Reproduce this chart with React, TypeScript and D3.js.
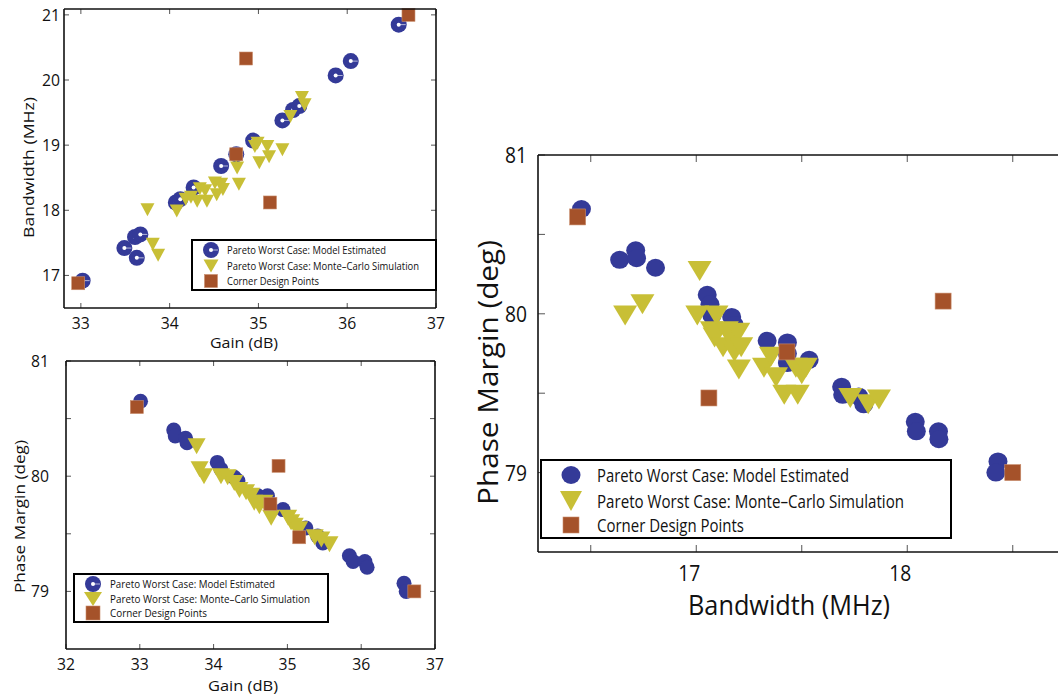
import React from 'react';
import * as d3 from 'd3';

type P = [number, number];

// ---------- Panel A: Gain (dB) vs Bandwidth (MHz) ----------
const gainBwModel: P[] = [
  [33.02, 16.92], [33.49, 17.42], [33.63, 17.27], [33.61, 17.59], [33.67, 17.63],
  [34.07, 18.12], [34.12, 18.17], [34.27, 18.35], [34.58, 18.68], [34.75, 18.86],
  [34.94, 19.07], [35.27, 19.38], [35.39, 19.54], [35.46, 19.6], [35.87, 20.07],
  [36.04, 20.29], [36.58, 20.85],
];
const gainBwMC: P[] = [
  [33.75, 18.01], [33.81, 17.48], [33.87, 17.31], [34.08, 17.99], [34.18, 18.17],
  [34.24, 18.2], [34.31, 18.14], [34.34, 18.33], [34.42, 18.14], [34.4, 18.3],
  [34.51, 18.42], [34.53, 18.24], [34.58, 18.4], [34.6, 18.32], [34.76, 18.65],
  [34.78, 18.4], [34.75, 18.83], [34.96, 18.98], [34.99, 19.03], [35.01, 18.73],
  [35.1, 18.98], [35.12, 18.82], [35.27, 18.93], [35.36, 19.44], [35.49, 19.73],
  [35.52, 19.62],
];
const gainBwCorner: P[] = [
  [32.97, 16.88], [34.86, 20.33], [34.75, 18.86], [35.13, 18.12], [36.69, 21.0],
];

// ---------- Panel B: Gain (dB) vs Phase Margin (deg) ----------
const gainPmModel: P[] = [
  [33.01, 80.65], [33.46, 80.4], [33.48, 80.35], [33.62, 80.33], [33.64, 80.29],
  [34.05, 80.12], [34.1, 80.06], [34.28, 79.99], [34.33, 79.96], [34.6, 79.83],
  [34.73, 79.83], [34.94, 79.71], [35.25, 79.55], [35.41, 79.48], [35.48, 79.42],
  [35.84, 79.31], [35.89, 79.26], [36.05, 79.26], [36.08, 79.21], [36.58, 79.07],
  [36.61, 79.0],
];
const gainPmMC: P[] = [
  [33.77, 80.26], [33.81, 80.06], [33.87, 80.0], [34.1, 80.0], [34.19, 79.99],
  [34.28, 79.94], [34.35, 79.88], [34.44, 79.86], [34.51, 79.83], [34.55, 79.77],
  [34.62, 79.74], [34.69, 79.77], [34.78, 79.64], [35.01, 79.64], [35.05, 79.6],
  [35.1, 79.57], [35.16, 79.54], [35.37, 79.47], [35.46, 79.45], [35.57, 79.41],
];
const gainPmCorner: P[] = [
  [32.96, 80.6], [34.88, 80.09], [34.77, 79.76], [35.16, 79.47], [36.72, 79.0],
];

// ---------- Panel C: Bandwidth (MHz) vs Phase Margin (deg) ----------
const bwPmModel: P[] = [
  [16.456, 80.66], [16.637, 80.34], [16.713, 80.4], [16.717, 80.35], [16.807, 80.29],
  [17.052, 80.12], [17.065, 80.06], [17.074, 79.99], [17.168, 79.98], [17.18, 79.93],
  [17.336, 79.83], [17.432, 79.82], [17.432, 79.75], [17.432, 79.69], [17.535, 79.71],
  [17.689, 79.54], [17.694, 79.49], [17.77, 79.48], [17.794, 79.43], [18.038, 79.32],
  [18.043, 79.26], [18.148, 79.26], [18.15, 79.21], [18.43, 79.07], [18.42, 79.0],
];
const bwPmMC: P[] = [
  [16.663, 79.99], [16.745, 80.06], [17.016, 80.27], [17.005, 79.99], [17.096, 79.99],
  [17.074, 79.89], [17.087, 79.85], [17.127, 79.79], [17.145, 79.89], [17.166, 79.84],
  [17.181, 79.76], [17.199, 79.88], [17.213, 79.79], [17.202, 79.65], [17.321, 79.66],
  [17.354, 79.73], [17.378, 79.6], [17.417, 79.49], [17.472, 79.66], [17.481, 79.49],
  [17.5, 79.62], [17.519, 79.66], [17.73, 79.47], [17.815, 79.43], [17.866, 79.46],
];
const bwPmCorner: P[] = [
  [16.438, 80.61], [17.06, 79.47], [17.43, 79.76], [18.17, 80.08], [18.5, 79.0],
];

const legendLabels = [
  'Pareto Worst Case: Model Estimated',
  'Pareto Worst Case: Monte\u2013Carlo Simulation',
  'Corner Design Points',
];

const gainTicksA = [33, 34, 35, 36, 37];
const bwTicksA = [17, 18, 19, 20, 21];
const gainTicksB = [32, 33, 34, 35, 36, 37];
const pmTicks = [79, 79.5, 80, 80.5, 81];
const pmLabels = [79, 80, 81];
const bwTicksC = [16.5, 17, 17.5, 18, 18.5];
const bwLabelsC = [17, 18];

const BLUE = '#343a98';
const YELLOW = '#c8bf36';
const BROWN = '#a5522a';
const FONT = '"Open Sans", "Noto Sans", sans-serif';

type MarkerStyle = {
  r: number; ry?: number; hole: number; line: boolean;
  tw: number; th: number; sq: number;
};

function Circle({ x, y, m }: { x: number; y: number; m: MarkerStyle }) {
  return (
    <g>
      <ellipse cx={x} cy={y} rx={m.r} ry={m.ry ?? m.r} fill={BLUE} />
      {m.hole > 0 && <circle cx={x} cy={y} r={m.hole} fill="#fff" />}
      {m.line && <line x1={x} x2={x + m.r - 1} y1={y} y2={y} stroke="#fff" strokeWidth={0.8} opacity={0.8} />}
    </g>
  );
}
function Tri({ x, y, m }: { x: number; y: number; m: MarkerStyle }) {
  const w = m.tw / 2, h = m.th / 2;
  return <path d={`M${x - w},${y - h}L${x + w},${y - h}L${x},${y + h}Z`} fill={YELLOW} />;
}
function Sq({ x, y, m }: { x: number; y: number; m: MarkerStyle }) {
  return <rect x={x - m.sq / 2} y={y - m.sq / 2} width={m.sq} height={m.sq} fill={BROWN} stroke="#c98d6c" strokeWidth={0.6} />;
}

type PanelCfg = {
  x0: number; x1: number; y0: number; y1: number;
  xDom: [number, number]; yDom: [number, number];
  xTicks: number[]; xLabels: number[]; yTicks: number[]; yLabels: number[];
  tickLen: number; tickFont: number; tickW: number;
  xLabOffX: number; xLabBase: number; yLabEnd: number; yLabDy: number;
  xTitle: string; xTitleX: number; xTitleY: number; xTitleLen: number; titleFont: number;
  yTitle: string; yTitleX: number; yTitleY: number; yTitleLen: number;
  rightBorder: boolean;
  model: P[]; mc: P[]; corner: P[];
  mk: MarkerStyle; lmk: MarkerStyle;
  leg: { x0: number; x1: number; y0: number; y1: number; mx: number; tx: number; ys: number[]; font: number; lens: number[]; dy: number };
};

function Panel({ c }: { c: PanelCfg }) {
  const xs = d3.scaleLinear().domain(c.xDom).range([c.x0, c.x1]);
  const ys = d3.scaleLinear().domain(c.yDom).range([c.y1, c.y0]);
  const clipId = `clip${c.x0}${c.y0}`;
  return (
    <g fontFamily={FONT}>
      <defs>
        <clipPath id={clipId}>
          <rect x={c.x0 - 12} y={c.y0 - 12} width={c.x1 - c.x0 + 24} height={c.y1 - c.y0 + 24} />
        </clipPath>
      </defs>
      <g clipPath={`url(#${clipId})`}>
        {c.model.map((d, i) => <Circle key={'m' + i} x={xs(d[0])} y={ys(d[1])} m={c.mk} />)}
        {c.mc.map((d, i) => <Tri key={'t' + i} x={xs(d[0])} y={ys(d[1])} m={c.mk} />)}
        {c.corner.map((d, i) => <Sq key={'s' + i} x={xs(d[0])} y={ys(d[1])} m={c.mk} />)}
      </g>
      {c.xTicks.map((t) => (
        <g key={'xt' + t} stroke="#555" strokeWidth={1}>
          <line x1={xs(t)} x2={xs(t)} y1={c.y1} y2={c.y1 - c.tickLen} />
          <line x1={xs(t)} x2={xs(t)} y1={c.y0} y2={c.y0 + c.tickLen} />
        </g>
      ))}
      {c.yTicks.map((t) => (
        <g key={'yt' + t} stroke="#555" strokeWidth={1}>
          <line x1={c.x0} x2={c.x0 + c.tickLen} y1={ys(t)} y2={ys(t)} />
          {c.rightBorder && <line x1={c.x1} x2={c.x1 - c.tickLen} y1={ys(t)} y2={ys(t)} />}
        </g>
      ))}
      <g stroke="#111" strokeWidth={1.6} fill="none">
        <line x1={c.x0} x2={c.x1} y1={c.y0} y2={c.y0} />
        <line x1={c.x0} x2={c.x1} y1={c.y1} y2={c.y1} />
        <line x1={c.x0} x2={c.x0} y1={c.y0} y2={c.y1} />
        {c.rightBorder && <line x1={c.x1} x2={c.x1} y1={c.y0} y2={c.y1} />}
      </g>
      {c.xLabels.map((t) => (
        <text key={'xl' + t} x={xs(t) + c.xLabOffX} y={c.xLabBase} fontSize={c.tickFont} textAnchor="middle"
          textLength={c.tickW} lengthAdjust="spacingAndGlyphs" fill="#111">{t}</text>
      ))}
      {c.yLabels.map((t) => (
        <text key={'yl' + t} x={c.yLabEnd} y={ys(t) + c.yLabDy} fontSize={c.tickFont} textAnchor="end"
          textLength={c.tickW} lengthAdjust="spacingAndGlyphs" fill="#111">{t}</text>
      ))}
      <text x={c.xTitleX} y={c.xTitleY} fontSize={c.titleFont} textAnchor="middle" textLength={c.xTitleLen}
        lengthAdjust="spacingAndGlyphs" fill="#111">{c.xTitle}</text>
      <text transform={`translate(${c.yTitleX},${c.yTitleY}) rotate(-90)`} fontSize={c.titleFont} textAnchor="middle"
        textLength={c.yTitleLen} lengthAdjust="spacingAndGlyphs" fill="#111">{c.yTitle}</text>
      <rect x={c.leg.x0} y={c.leg.y0} width={c.leg.x1 - c.leg.x0} height={c.leg.y1 - c.leg.y0} fill="#fff" stroke="#000" strokeWidth={2} />
      <Circle x={c.leg.mx} y={c.leg.ys[0]} m={c.lmk} />
      <Tri x={c.leg.mx} y={c.leg.ys[1]} m={c.lmk} />
      <Sq x={c.leg.mx} y={c.leg.ys[2]} m={c.lmk} />
      {legendLabels.map((l, i) => (
        <text key={'lg' + i} x={c.leg.tx} y={c.leg.ys[i] + c.leg.dy} fontSize={c.leg.font} textLength={c.leg.lens[i]}
          lengthAdjust="spacingAndGlyphs" fill="#111">{l}</text>
      ))}
    </g>
  );
}

const panelA: PanelCfg = {
  x0: 64, x1: 436, y0: 9, y1: 308, xDom: [32.81, 37], yDom: [16.5, 21.09],
  xTicks: gainTicksA, xLabels: gainTicksA, yTicks: bwTicksA, yLabels: bwTicksA,
  tickLen: 5, tickFont: 16, tickW: 18, xLabOffX: 0, xLabBase: 329, yLabEnd: 60, yLabDy: 6,
  xTitle: 'Gain (dB)', xTitleX: 244, xTitleY: 348, xTitleLen: 68, titleFont: 15,
  yTitle: 'Bandwidth (MHz)', yTitleX: 33.5, yTitleY: 167.5, yTitleLen: 141, rightBorder: true,
  model: gainBwModel, mc: gainBwMC, corner: gainBwCorner,
  mk: { r: 8, hole: 2, line: true, tw: 14, th: 13, sq: 13 },
  lmk: { r: 8, hole: 2, line: true, tw: 15, th: 13, sq: 13 },
  leg: { x0: 192, x1: 436, y0: 240, y1: 290, mx: 211, tx: 227, ys: [250, 266, 281], font: 11.5, lens: [159, 192, 92], dy: 4 },
};

const panelB: PanelCfg = {
  x0: 66, x1: 435, y0: 361, y1: 649, xDom: [32, 37], yDom: [78.5, 81],
  xTicks: gainTicksB, xLabels: gainTicksB, yTicks: pmTicks, yLabels: pmLabels,
  tickLen: 5, tickFont: 16, tickW: 18, xLabOffX: 0, xLabBase: 670, yLabEnd: 49, yLabDy: 6,
  xTitle: 'Gain (dB)', xTitleX: 243, xTitleY: 691, xTitleLen: 70, titleFont: 15,
  yTitle: 'Phase Margin (deg)', yTitleX: 25, yTitleY: 516.5, yTitleLen: 153, rightBorder: true,
  model: gainPmModel, mc: gainPmMC, corner: gainPmCorner,
  mk: { r: 7.5, hole: 0, line: false, tw: 18, th: 16, sq: 13 },
  lmk: { r: 8, hole: 2, line: true, tw: 18, th: 14, sq: 14 },
  leg: { x0: 74, x1: 328, y0: 574, y1: 622, mx: 93, tx: 110, ys: [584, 599, 613], font: 11.5, lens: [165, 200, 97], dy: 4 },
};

const panelC: PanelCfg = {
  x0: 538, x1: 1065.5, y0: 155, y1: 552, xDom: [16.25, 18.75], yDom: [78.5, 81],
  xTicks: bwTicksC, xLabels: bwLabelsC, yTicks: pmTicks, yLabels: pmLabels,
  tickLen: 7, tickFont: 21, tickW: 22, xLabOffX: -7, xLabBase: 581, yLabEnd: 527, yLabDy: 8,
  xTitle: 'Bandwidth (MHz)', xTitleX: 789, xTitleY: 615, xTitleLen: 202, titleFont: 28,
  yTitle: 'Phase Margin (deg)', yTitleX: 498, yTitleY: 372.5, yTitleLen: 265, rightBorder: false,
  model: bwPmModel, mc: bwPmMC, corner: bwPmCorner,
  mk: { r: 9.5, ry: 9, hole: 0, line: false, tw: 24, th: 20, sq: 16 },
  lmk: { r: 9.5, ry: 9, hole: 0, line: false, tw: 22, th: 20, sq: 16 },
  leg: { x0: 541, x1: 951, y0: 460, y1: 538, mx: 571, tx: 597, ys: [475, 501, 525], font: 18, lens: [252, 307, 147], dy: 6.5 },
};

export default function App() {
  return (
    <svg width={1058} height={696} style={{ position: 'absolute', left: 0, top: 0, display: 'block', background: '#fff' }}>
      <rect width={1058} height={696} fill="#fff" />
      <Panel c={panelA} />
      <Panel c={panelB} />
      <Panel c={panelC} />
    </svg>
  );
}
